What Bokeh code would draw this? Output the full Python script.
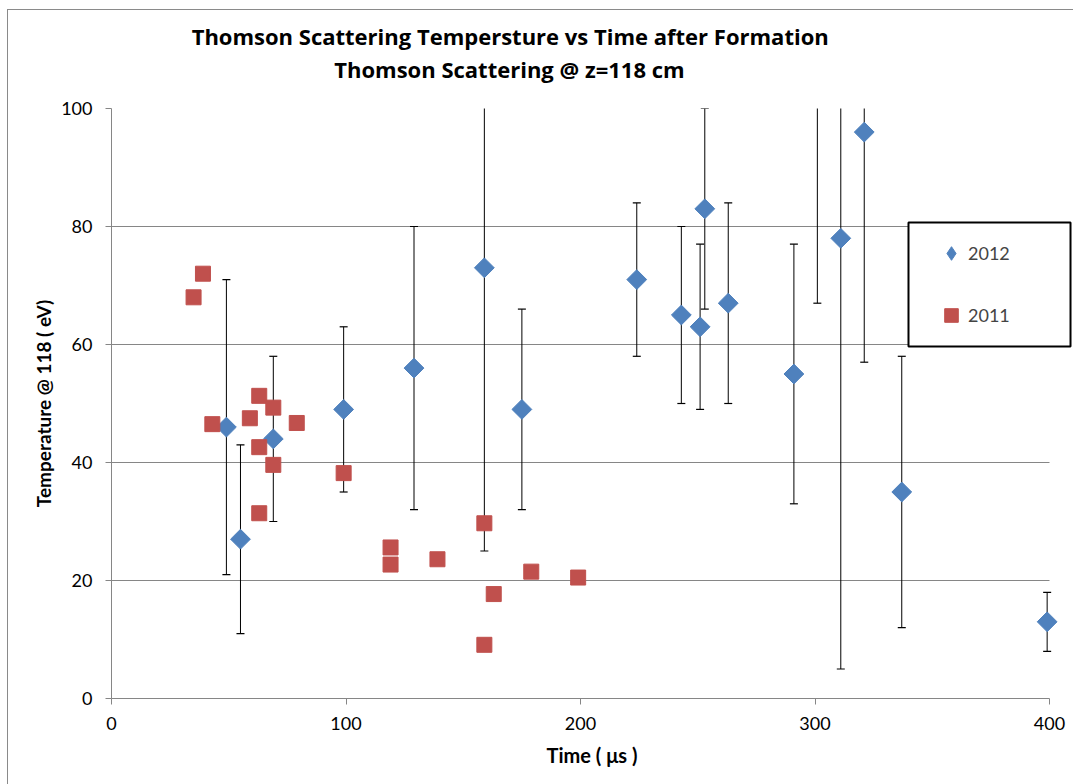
import math
from bokeh.plotting import figure
from bokeh.layouts import column
from bokeh.models import (Range1d, FixedTicker, Legend, LegendItem, Label,
                          ColumnDataSource, BoxAnnotation)
from bokeh.embed import file_html
from bokeh.resources import INLINE

# ---- data ----
t2012 = [49, 55, 69, 99, 129, 159, 175, 224, 243, 251, 253, 263, 291, 301, 311, 321, 337, 399]
T2012 = [46, 27, 44, 49, 56, 73, 49, 71, 65, 63, 83, 67, 55, 120, 78, 96, 35, 13]
hi2012 = [71, 43, 58, 63, 80, 121, 66, 84, 80, 77, 100, 84, 77, 173, 151, 135, 58, 18]
lo2012 = [21, 11, 30, 35, 32, 25, 32, 58, 50, 49, 66, 50, 33, 67, 5, 57, 12, 8]

t2011 = [35, 39, 43, 59, 63, 63, 63, 69, 69, 79, 99, 119, 119, 139, 159, 159, 163, 179, 199]
T2011 = [68, 72, 46.5, 47.5, 51.3, 42.6, 31.4, 49.3, 39.6, 46.7, 38.2, 25.6, 22.7, 23.6, 29.7, 9.1, 17.7, 21.5, 20.5]

x_ticks = [0, 100, 200, 300, 400]
y_ticks = [0, 20, 40, 60, 80, 100]

title1 = "Thomson  Scattering Tempersture vs Time after Formation"
title2 = "Thomson Scattering @ z=118 cm"
x_label = "Time ( \u03bcs )"
y_label = "Temperature @ 118 ( eV)"

FONT = "Lato"
TFONT = "Open Sans"
BLUE = "#4F81BD"
RED = "#C0504D"
GRID = "#868686"

src12 = ColumnDataSource(dict(t=t2012, T=T2012, hi=hi2012, lo=lo2012))
src11 = ColumnDataSource(dict(t=t2011, T=T2011))

W = 1065

# ---- title strip ----
tfig = figure(width=W, height=80, output_backend="svg", toolbar_location=None,
              x_range=Range1d(0, W), y_range=Range1d(0, 80),
              x_axis_type=None, y_axis_type=None, min_border=0)
tfig.outline_line_color = None
tfig.grid.visible = False
for tx, ty, txt in ((445, 55, title1), (441, 22, title2)):
    tfig.add_layout(Label(x=tx, y=ty, text=txt, text_font=TFONT, text_font_size="22px",
                          text_font_style="bold", text_color="black",
                          text_align="center", text_baseline="middle"))

# ---- main plot ----
p = figure(width=W, height=694, output_backend="svg", toolbar_location=None,
           x_range=Range1d(0, 961 * 400 / 938), y_range=Range1d(0, 100),
           min_border_left=103, min_border_right=1, min_border_top=18, min_border_bottom=86)
p.outline_line_color = None
p.background_fill_color = "white"
p.border_fill_color = "white"

p.xgrid.visible = False
p.ygrid.grid_line_color = GRID
p.ygrid.grid_line_width = 1
p.ygrid.ticker = FixedTicker(ticks=y_ticks)
try:
    p.ygrid.cross_bounds = (0, 400)
except Exception:
    pass

for ax, ticks in ((p.xaxis[0], x_ticks), (p.yaxis[0], y_ticks)):
    ax.ticker = FixedTicker(ticks=ticks)
    ax.axis_line_color = GRID
    ax.major_tick_line_color = GRID
    ax.major_tick_out = 6
    ax.major_tick_in = 0
    ax.minor_tick_line_color = None
    ax.major_label_text_font = FONT
    ax.major_label_text_font_size = "18px"
    ax.major_label_text_color = "black"
    ax.axis_label_text_font = FONT
    ax.axis_label_text_font_style = "bold"
    ax.axis_label_text_color = "black"
p.xaxis.bounds = (0, 400)

p.xaxis.axis_label = x_label
p.yaxis.axis_label = y_label
p.xaxis.axis_label_text_font_size = "20px"
p.yaxis.axis_label_text_font_size = "19px"
p.xaxis.major_label_standoff = 12
p.yaxis.major_label_standoff = 13
p.xaxis.axis_label_standoff = 10
p.yaxis.axis_label_standoff = 3

# error bars
p.segment(x0="t", y0="lo", x1="t", y1="hi", source=src12, line_color="black", line_width=1)
p.scatter(x="t", y="hi", source=src12, marker="dash", size=8, line_color="black", line_width=1.2)
p.scatter(x="t", y="lo", source=src12, marker="dash", size=8, line_color="black", line_width=1.2)

p.scatter(x="t", y="T", source=src12, marker="square", angle=math.pi / 4, size=14,
          fill_color=BLUE, line_color=BLUE)
r11 = p.scatter(x="t", y="T", source=src11, marker="square", size=15,
                fill_color=RED, line_color=RED)
# legend swatch for the diamond series
r12_key = p.scatter(x="t", y="T", source=src12, marker="diamond", size=0,
                    fill_color=BLUE, line_color=BLUE)

box = BoxAnnotation(left=339.87, right=408.96, top=80.68, bottom=59.66,
                    fill_color="white", fill_alpha=1.0,
                    line_color="black", line_alpha=1.0, line_width=2)
p.add_layout(box)

legend = Legend(items=[LegendItem(label="2012", renderers=[r12_key]),
                       LegendItem(label="2011", renderers=[r11])],
                location=(823, 366), orientation="vertical",
                padding=0, spacing=28, glyph_height=34, glyph_width=34,
                label_standoff=0, label_height=34,
                label_text_font=FONT, label_text_font_size="18px",
                border_line_color=None, background_fill_alpha=0.0, margin=0)
p.add_layout(legend, "center")

lay = column(tfig, p, spacing=0)
lay.styles = {"margin-left": "7px", "margin-top": "9px",
              "border-left": "1px solid #8a8a8a", "border-top": "1px solid #8a8a8a"}

open("out.html", "w").write(file_html(lay, INLINE))
